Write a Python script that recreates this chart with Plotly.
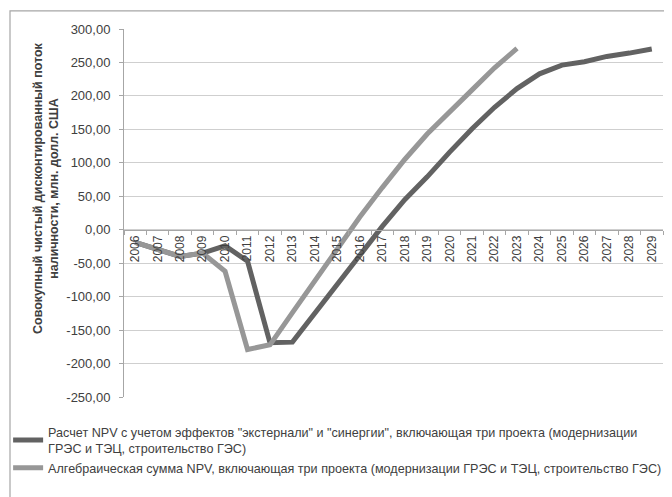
import plotly.graph_objects as go

years = [str(y) for y in range(2006, 2030)]
npv_effects = [-19, -30, -40, -35, -24, -47, -169, -168, -124, -80, -37, 5, 45, 79, 116, 151,
               183, 211, 233, 246, 251, 259, 264, 270]
npv_sum = [-19, -30, -40, -35, -62, -179, -172, -124, -76, -28, 19, 63, 105, 143, 177, 209,
           242, 271]
years_sum = years[:len(npv_sum)]

name1 = ('Расчет NPV с учетом эффектов "экстернали" и "синергии", включающая три проекта '
         '(модернизации<br>ГРЭС и ТЭЦ, строительство ГЭС)')
name2 = 'Алгебраическая сумма NPV, включающая три проекта (модернизации ГРЭС и ТЭЦ, строительство ГЭС)'
ytitle = 'Совокупный чистый дисконтированный поток<br>наличности, млн. долл. США'
yticks = list(range(-250, 301, 50))
ytick_text = [f"{v},00" for v in yticks]

fig = go.Figure()
fig.add_trace(go.Scatter(x=years, y=npv_effects, mode='lines', name=name1,
                         line=dict(color='#626262', width=5)))
fig.add_trace(go.Scatter(x=years_sum, y=npv_sum, mode='lines', name=name2,
                         line=dict(color='#979797', width=5)))

fig.update_layout(
    width=664, height=489,
    margin=dict(l=116, r=9, t=21, b=100, autoexpand=False),
    paper_bgcolor='white', plot_bgcolor='white',
    font=dict(family='Liberation Sans, Arial, sans-serif', color='#404040', size=12),
    showlegend=True,
    legend=dict(x=-0.215, y=-0.055,
                xanchor='left', yanchor='top', orientation='v',
                itemwidth=30, tracegroupgap=0, traceorder='normal',
                font=dict(family='Liberation Sans Narrow, Liberation Sans, sans-serif',
                          size=12.6, color='#404040'),
                bgcolor='rgba(0,0,0,0)'),
    xaxis=dict(type='category', categoryorder='array', categoryarray=years,
               anchor='free', position=250 / 550, automargin=False,
               showline=True, linecolor='#a6a6a6', linewidth=1,
               showgrid=False, ticks='outside', ticklen=4, tickcolor='#a6a6a6',
               tickson='boundaries', tickangle=-90,
               tickfont=dict(size=12, color='#404040'),
               range=[-0.5, len(years) - 0.5]),
    yaxis=dict(range=[-250, 300], tickvals=yticks, ticktext=ytick_text, automargin=False,
               showline=True, linecolor='#a6a6a6', linewidth=1,
               showgrid=True, gridcolor='#cfcfcf', gridwidth=1,
               zeroline=False, ticks='outside', ticklen=4, tickcolor='#a6a6a6',
               ticklabelstandoff=6,
               tickfont=dict(size=13, color='#404040')),
    annotations=[dict(text=ytitle, xref='paper', yref='paper',
                      x=-0.1447, y=0.568, xanchor='center', yanchor='middle',
                      textangle=-90, showarrow=False,
                      font=dict(size=12.5, color='#404040',
                                family='Liberation Sans, Arial, sans-serif', weight='bold'))],
    shapes=[dict(type='rect', xref='paper', yref='paper', x0=-0.2115, x1=1.05,
                 y0=-0.5, y1=1.049, line=dict(color='#a6a6a6', width=1.2),
                 fillcolor='rgba(0,0,0,0)', layer='below')],
)

fig.write_html("out.html")
